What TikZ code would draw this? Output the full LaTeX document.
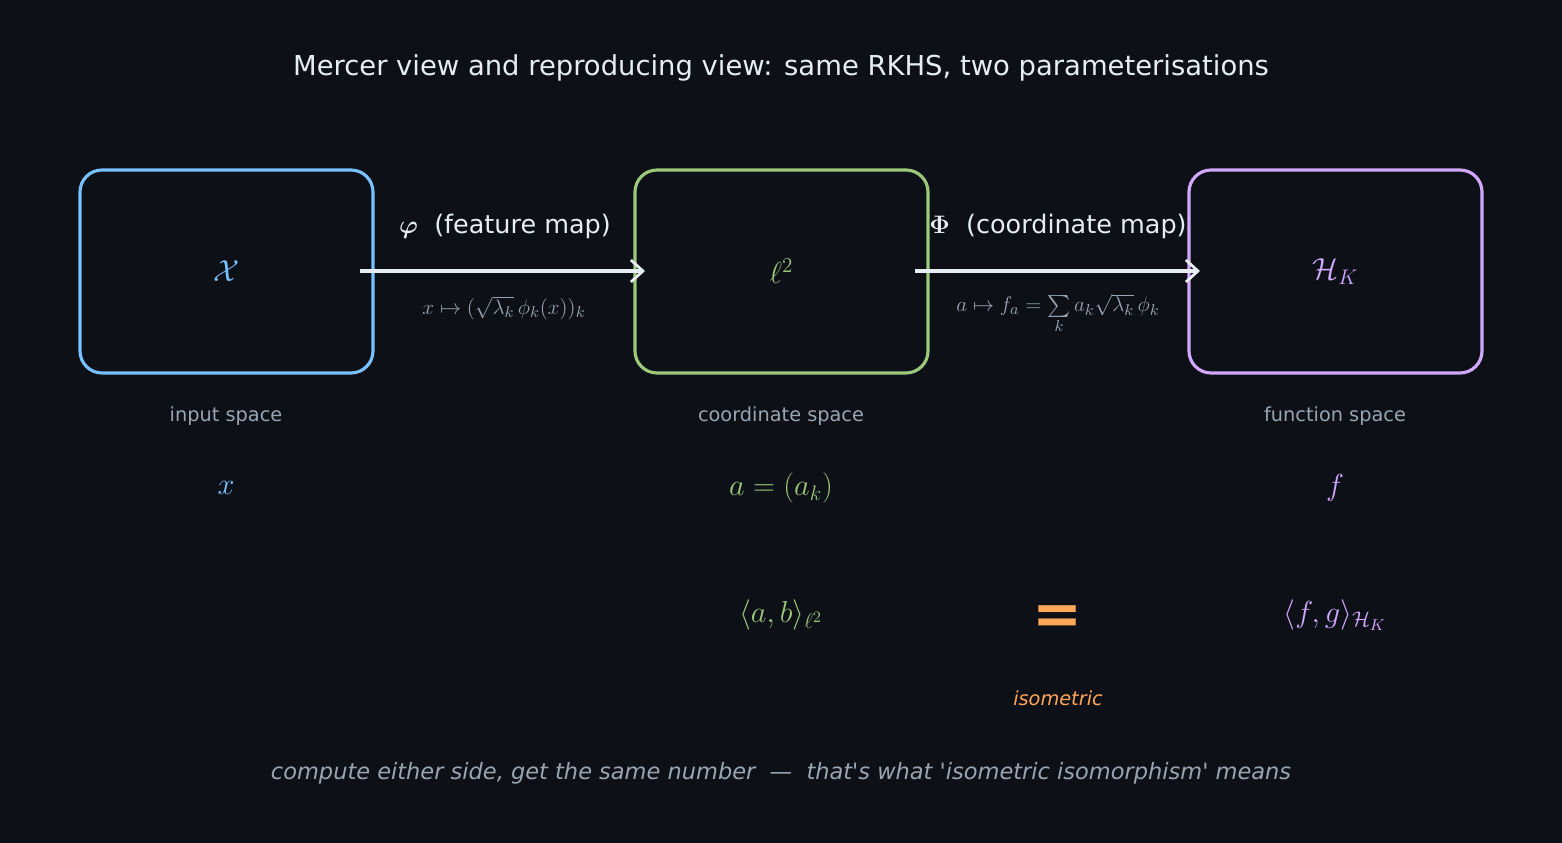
\documentclass[tikz,border=0pt]{standalone}
\usepackage{amsmath,amssymb}
\usepackage{fontspec}
\setmainfont{DejaVu Sans}
\usetikzlibrary{arrows.meta}
\definecolor{bg}{HTML}{0D1017}
\definecolor{cb}{HTML}{79C0FF}
\definecolor{cg}{HTML}{9CC87A}
\definecolor{cp}{HTML}{D2A8FF}
\definecolor{co}{HTML}{FFA657}
\definecolor{cgr}{HTML}{9AA5B1}
\definecolor{cw}{HTML}{E6EDF3}
\begin{document}
\begin{tikzpicture}[x=0.2mm,y=-0.2mm,
  box/.style={draw,line width=1.8pt,rounded corners=4.4mm,fill=bg,minimum width=58.6mm,minimum height=40.6mm},
  arr/.style={draw=cw,line width=1.8pt,-{Straight Barb[length=2.4mm,width=4.4mm,line width=1.6pt]}},
  capt/.style={text=cgr,font=\fontsize{11}{13}\selectfont},
  sym/.style={font=\fontsize{18}{20}\selectfont},
  lab/.style={text=cw,font=\fontsize{14.5}{17}\selectfont},
  frm/.style={text=cgr,font=\fontsize{12.5}{14}\selectfont}]
\fill[bg] (0,0) rectangle (1562,843);
\useasboundingbox (0,0) rectangle (1562,843);
\node[text=cw,font=\fontsize{15.6}{18}\selectfont] (title) at (781,68) {Mercer view and reproducing view: same RKHS, two parameterisations};
\node[box,draw=cb] (X) at (226.5,271.5) {};
\node[box,draw=cg] (L) at (781.5,271.5) {};
\node[box,draw=cp] (H) at (1335.5,271.5) {};
\node[text=cb,sym] (Xs) at (X) {$\mathcal{X}$};
\node[text=cg,sym] (Ls) at (L) {$\ell^2$};
\node[text=cp,sym] (Hs) at (H) {$\mathcal{H}_K$};
\coordinate (a1) at (360,271); \coordinate (a2) at (645,271);
\coordinate (b1) at (915,271); \coordinate (b2) at (1200,271);
\draw[arr] (a1) -- (a2);
\draw[arr] (b1) -- (b2);
\node[lab] (l1) at (505,226) {$\boldsymbol{\varphi}$\ \ (feature map)};
\node[lab] (l2) at (1058,226) {$\boldsymbol{\Phi}$\ \ (coordinate map)};
\node[frm] (f1) at (504,308) {$x \mapsto (\sqrt{\lambda_k}\,\phi_k(x))_k$};
\node[frm] (f2) at (1058,314) {$a \mapsto f_a = \sum\limits_k a_k\sqrt{\lambda_k}\,\phi_k$};
\node[capt] (c1) at (226,416) {input space};
\node[capt] (c2) at (781,416) {coordinate space};
\node[capt] (c3) at (1335,416) {function space};
\node[sym,text=cb] (s1) at (226,488) {$x$};
\node[sym,text=cg] (s2) at (781,488) {$a=(a_k)$};
\node[sym,text=cp] (s3) at (1335,488) {$f$};
\node[sym,text=cg] (i1) at (781,615) {$\langle a,b\rangle_{\ell^2}$};
\node[sym,text=cp] (i2) at (1335,615) {$\langle f,g\rangle_{\mathcal{H}_K}$};
\node[text=co,font=\fontsize{34}{34}\bfseries] (eq) at (1058,620) {=};
\node[text=co,font=\fontsize{11}{13}\itshape] (iso) at (1058,698) {isometric};
\node[text=cgr,font=\fontsize{12.8}{15}\itshape] (foot) at (781,773) {compute either side, get the same number\ \ —\ \ that\textquotesingle s what \textquotesingle isometric isomorphism\textquotesingle{} means};
\end{tikzpicture}
\end{document}
